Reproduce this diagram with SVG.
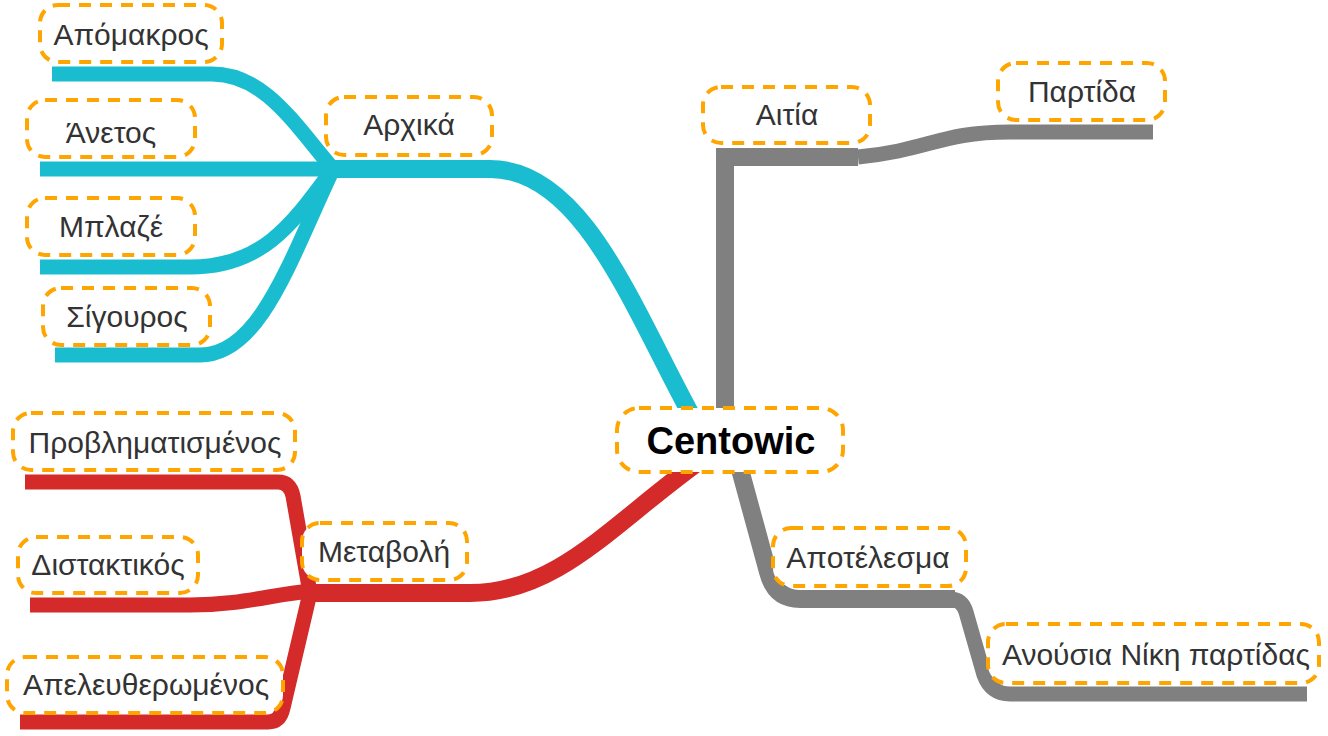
<svg xmlns="http://www.w3.org/2000/svg" width="1328" height="736" viewBox="0 0 1328 736">
<style>
.l{fill:none;stroke-linecap:butt;stroke-linejoin:round}
.t{stroke:#1ABDD0}
.r{stroke:#D42A2A}
.g{stroke:#808080}
.m{stroke-width:18}
.s{stroke-width:15}
.b{fill:#fff;stroke:#FFA500;stroke-width:4;stroke-dasharray:12 9}
.x{font-family:"Liberation Sans",Arial,sans-serif;font-size:30px;fill:#333;text-anchor:middle}
.c{font-family:"Liberation Sans",Arial,sans-serif;font-size:38px;font-weight:bold;fill:#000;text-anchor:middle}
</style>
<rect width="1328" height="736" fill="#fff"/>
<g id="connectors">
<path class="l t m" d="M333,169 H490 C590,169 640,330 708,445"/>
<path class="l t s" d="M52,74 H212 C265,74 295,125 333,169"/>
<path class="l t s" d="M40,169 H333"/>
<path class="l t s" d="M40,267 H190 C265,267 295,220 333,169"/>
<path class="l t s" d="M55,355 H200 C260,355 290,260 333,169"/>
<path class="l r m" d="M308,593 H470 C560,593 615,520 708,455"/>
<path class="l r s" d="M25,482 H278 Q290,482 293,496 L310,593"/>
<path class="l r s" d="M30,605 H190 C240,605 270,595 310,591"/>
<path class="l r s" d="M20,722 H268 Q280,722 283,708 L310,593"/>
<path class="l g m" d="M725,440 V157 H858" style="stroke-linejoin:miter"/>
<path class="l g s" d="M858,157 C930,150 940,132 1010,132 H1153"/>
<path class="l g m" d="M732,440 L768,572 Q775,599 800,599 H955"/>
<path class="l g s" d="M950,599 Q962,599 966,612 L984,675 Q991,694 1010,694 H1307"/>
</g>
<g id="n-apomakros"><rect class="b" x="40" y="5" width="182" height="57" rx="18"/><text class="x" x="131" y="45">Απόμακρος</text></g>
<g id="n-anetos"><rect class="b" x="27" y="100" width="168" height="57" rx="18"/><text class="x" x="111" y="143">Άνετος</text></g>
<g id="n-blaze"><rect class="b" x="27" y="198" width="168" height="57" rx="18"/><text class="x" x="111" y="237">Μπλαζέ</text></g>
<g id="n-sigouros"><rect class="b" x="43" y="288" width="167" height="57" rx="18"/><text class="x" x="127" y="327">Σίγουρος</text></g>
<g id="n-arxika"><rect class="b" x="326" y="97" width="166" height="58" rx="18"/><text class="x" x="409" y="135">Αρχικά</text></g>
<g id="n-centowic"><rect class="b" x="617" y="408" width="226" height="64" rx="22"/><text class="c" x="731" y="454">Centowic</text></g>
<g id="n-aitia"><rect class="b" x="703" y="87" width="167" height="56" rx="18"/><text class="x" x="787" y="125">Αιτία</text></g>
<g id="n-partida"><rect class="b" x="998" y="63" width="167" height="57" rx="18"/><text class="x" x="1082" y="102">Παρτίδα</text></g>
<g id="n-apotelesma"><rect class="b" x="773" y="528" width="193" height="58" rx="18"/><text class="x" x="868" y="568">Αποτέλεσμα</text></g>
<g id="n-anousia"><rect class="b" x="988" y="624" width="331" height="59" rx="18"/><text class="x" x="1156" y="665">Ανούσια Νίκη παρτίδας</text></g>
<g id="n-metavoli"><rect class="b" x="302" y="523" width="165" height="57" rx="18"/><text class="x" x="384" y="562">Μεταβολή</text></g>
<g id="n-provlimatismenos"><rect class="b" x="13" y="413" width="282" height="57" rx="18"/><text class="x" x="155" y="453">Προβληματισμένος</text></g>
<g id="n-distaktikos"><rect class="b" x="18" y="537" width="180" height="56" rx="18"/><text class="x" x="108" y="575">Διστακτικός</text></g>
<g id="n-apeleftheromenos"><rect class="b" x="7" y="657" width="276" height="56" rx="18"/><text class="x" x="146" y="695">Απελευθερωμένος</text></g>
</svg>
